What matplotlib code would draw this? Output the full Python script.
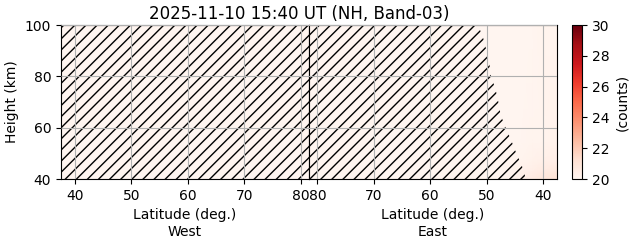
import numpy as np
import matplotlib
matplotlib.use("Agg")
import matplotlib.pyplot as plt

# grid of the two panels (latitude edges / heights in km)
west_lat = [37.5, 81.5]
west_hgt = [40, 100]
west_val = [[20.0, 20.0],
            [20.0, 20.0]]

east_lat = [37.5, 40, 42, 44, 47, 81.5]
east_hgt = [40, 43, 47, 55, 100]
east_val = [[21.2, 20.9, 20.6, 20.3, 20.1, 20.0],
            [20.8, 20.6, 20.4, 20.2, 20.0, 20.0],
            [20.4, 20.3, 20.2, 20.1, 20.0, 20.0],
            [20.2, 20.1, 20.1, 20.0, 20.0, 20.0],
            [20.1, 20.1, 20.0, 20.0, 20.0, 20.0]]

# edge of the hatched (no-data) region on the east side
mask_hgt = [40, 45, 50, 55, 60, 65, 70, 75, 80, 85, 90, 95, 100]
mask_lat = [43.0, 43.7, 44.7, 45.6, 46.6, 47.5, 47.9, 48.4, 49.2, 49.5, 50.0, 50.6, 51.5]

vmin, vmax = 20, 30
xticks = [40, 50, 60, 70, 80]
yticks = [40, 60, 80, 100]

fig = plt.figure(figsize=(6.31, 2.43), dpi=100)
axw = fig.add_axes([0.0967, 0.263, 0.393, 0.634])
axe = fig.add_axes([0.4897, 0.263, 0.393, 0.634])
cax = fig.add_axes([0.9065, 0.263, 0.016, 0.634])

axw.pcolormesh(west_lat, west_hgt, np.array(west_val), cmap="Reds",
               vmin=vmin, vmax=vmax, shading="gouraud")
pm = axe.pcolormesh(east_lat, east_hgt, np.array(east_val), cmap="Reds",
                    vmin=vmin, vmax=vmax, shading="gouraud")

axw.fill_between([west_lat[0], west_lat[-1]], west_hgt[0], west_hgt[-1],
                 facecolor="none", edgecolor="k", hatch="///", linewidth=0)
axe.fill_betweenx(mask_hgt, mask_lat, east_lat[-1],
                  facecolor="none", edgecolor="k", hatch="///", linewidth=0)

for ax in (axw, axe):
    ax.set_xlim(west_lat[0], west_lat[-1])
    ax.set_ylim(40, 100)
    ax.set_xticks(xticks)
    ax.set_yticks(yticks)
    ax.grid(True, color="#b0b0b0")
    ax.set_axisbelow(False)
axe.invert_xaxis()
axe.tick_params(left=False, labelleft=False)

axw.set_ylabel("Height (km)")
axw.set_xlabel("Latitude (deg.)\nWest")
axe.set_xlabel("Latitude (deg.)\nEast")

cb = fig.colorbar(pm, cax=cax, ticks=[20, 22, 24, 26, 28, 30])
cb.set_label("(counts)")

fig.text(0.474, 0.905, "2025-11-10 15:40 UT (NH, Band-03)", ha="center",
         va="bottom", fontsize=12)

fig.savefig("out.png", dpi=100)
